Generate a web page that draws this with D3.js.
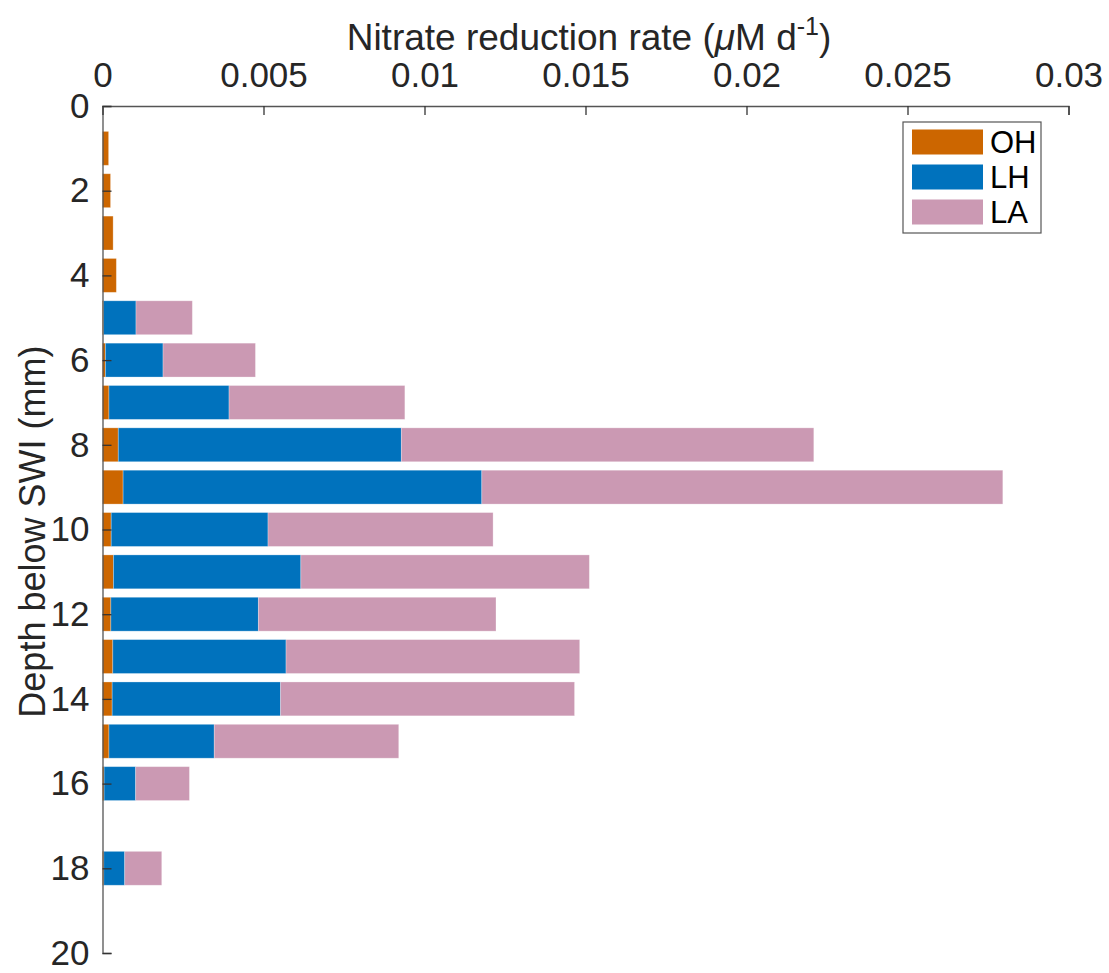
<!DOCTYPE html>
<html>
<head>
<meta charset="utf-8">
<script src="https://cdn.jsdelivr.net/npm/d3@7"></script>
<style>
  body { margin: 0; background: #fff; }
  svg { font-family: "Liberation Sans", Arial, sans-serif; }
</style>
</head>
<body>
<div id="chart"></div>
<script>
// depth below SWI (mm) and rate per group (uM d-1)
const depths = [1, 2, 3, 4, 5, 6, 7, 8, 9, 10, 11, 12, 13, 14, 15, 16, 18];
const OH = [0.00019, 0.00025, 0.00033, 0.00043, 0.00003, 0.00009, 0.0002, 0.00049, 0.00064,
            0.00027, 0.00034, 0.00026, 0.00032, 0.0003, 0.0002, 0.00005, 0.00004];
const LH = [0, 0, 0, 0, 0.00101, 0.00179, 0.00373, 0.00879, 0.01114,
            0.00487, 0.00582, 0.00458, 0.00538, 0.00523, 0.00327, 0.00098, 0.00065];
const LA = [0, 0, 0, 0, 0.00175, 0.00287, 0.00546, 0.01281, 0.01618,
            0.00699, 0.00896, 0.00738, 0.00912, 0.00913, 0.00573, 0.00167, 0.00115];
const groups = ["OH", "LH", "LA"];
const xTicks = [0, 0.005, 0.01, 0.015, 0.02, 0.025, 0.03];
const yTicks = [0, 2, 4, 6, 8, 10, 12, 14, 16, 18, 20];

const width = 1109, height = 973;
const colors = {OH: "#cc6600", LH: "#0072bd", LA: "#cb99b3"};

const rows = depths.map((d, i) => ({depth: d, OH: OH[i], LH: LH[i], LA: LA[i]}));
const series = d3.stack().keys(groups)(rows);

const x = d3.scaleLinear().domain([0, 0.03]).range([102.5, 1068.5]);
const y = d3.scaleLinear().domain([0, 20]).range([106, 953]);
const barH = 0.8;

const svg = d3.select("#chart").append("svg")
    .attr("width", width)
    .attr("height", height);

svg.append("g")
  .selectAll("g")
  .data(series)
  .join("g")
    .attr("fill", s => colors[s.key])
  .selectAll("rect")
  .data(s => s.filter(d => d[1] - d[0] > 0))
  .join("rect")
    .attr("x", d => x(d[0]))
    .attr("width", d => x(d[1]) - x(d[0]))
    .attr("y", d => y(d.data.depth - barH / 2))
    .attr("height", d => y(d.data.depth + barH / 2) - y(d.data.depth - barH / 2))
    .attr("stroke", "rgba(255,255,255,0.35)")
    .attr("stroke-width", 0.8);

// x axis on top, ticks pointing in
const xAxis = svg.append("g")
    .attr("transform", `translate(0,${y(0)})`)
    .call(d3.axisTop(x).tickValues(xTicks).tickSize(-9).tickPadding(19)
      .tickFormat(d => String(+d.toFixed(4))));

// y axis, reversed depth, ticks pointing in
const yAxis = svg.append("g")
    .attr("transform", `translate(${x(0)},0)`)
    .call(d3.axisLeft(y).tickValues(yTicks).tickSize(-9).tickPadding(13));

[xAxis, yAxis].forEach(a => {
  a.select(".domain").attr("stroke", "#555").attr("stroke-width", 1.3);
  a.selectAll(".tick line").attr("stroke", "#333").attr("stroke-width", 1.3);
  a.selectAll(".tick text").attr("fill", "#262626")
    .style("font-size", "35px").style("font-family", "Liberation Sans, Arial, sans-serif");
});

// axis titles
const title = svg.append("text")
    .attr("x", 589)
    .attr("y", 50)
    .attr("text-anchor", "middle")
    .attr("fill", "#262626")
    .style("font-size", "37px");
title.append("tspan").text("Nitrate reduction rate (");
title.append("tspan").attr("font-style", "italic").text("μ");
title.append("tspan").text("M d");
title.append("tspan").attr("dy", -15).style("font-size", "25px").text("-1");
title.append("tspan").attr("dy", 15).text(")");

svg.append("text")
    .attr("transform", `translate(45,${y(10.05)}) rotate(-90)`)
    .attr("text-anchor", "middle")
    .attr("fill", "#262626")
    .style("font-size", "36px")
    .text("Depth below SWI (mm)");

// legend
const legend = svg.append("g").attr("transform", "translate(903,122)");
legend.append("rect")
    .attr("width", 138).attr("height", 111)
    .attr("fill", "#fff").attr("stroke", "#555").attr("stroke-width", 1.2);
const item = legend.selectAll("g.item")
  .data(groups)
  .join("g")
    .attr("class", "item")
    .attr("transform", (d, i) => `translate(9,${7.5 + i * 35})`);
item.append("rect")
    .attr("width", 71).attr("height", 25)
    .attr("fill", d => colors[d]);
item.append("text")
    .attr("x", 78).attr("y", 12.5).attr("dy", "0.36em")
    .style("font-size", "31px")
    .text(d => d);
</script>
</body>
</html>
